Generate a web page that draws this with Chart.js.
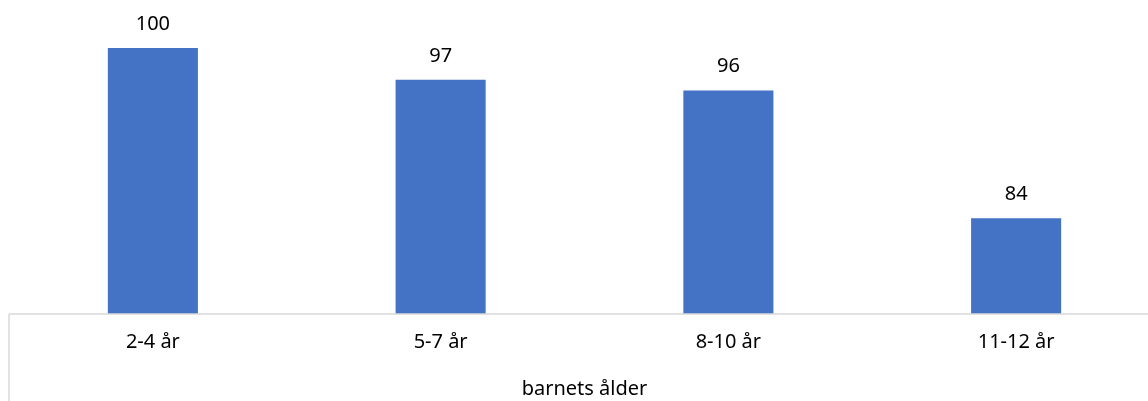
<!DOCTYPE html>
<html>
<head>
<meta charset="UTF-8">
<title>barnets ålder</title>
<script src="https://cdn.jsdelivr.net/npm/chart.js@4.4.1/dist/chart.umd.min.js"></script>
<style>
  body { margin: 0; overflow: hidden; background: #fff; }
  /* plot is a bit wider than the window, the right edge is cut like in the original */
  #container { width: 1160px; height: 401px; }
</style>
</head>
<body>
<div id="container">
  <canvas id="canvas"></canvas>
</div>
<script>
const categories = ['2-4 år', '5-7 år', '8-10 år', '11-12 år'];
const values = [100, 97, 96, 84];
const axisTitle = 'barnets ålder';

const fontFamily = "'Noto Sans', 'Open Sans', sans-serif";

// value labels over the bars + the left edge line of the category box
const barLabels = {
  id: 'barLabels',
  afterDatasetsDraw(chart) {
    const ctx = chart.ctx;
    const meta = chart.getDatasetMeta(0);
    ctx.save();
    ctx.font = '20px ' + fontFamily;
    ctx.fillStyle = '#000';
    ctx.textAlign = 'center';
    ctx.textBaseline = 'middle';
    meta.data.forEach(function(bar, i) {
      ctx.fillText(values[i], bar.x, bar.y - 24);
    });
    const area = chart.chartArea;
    ctx.strokeStyle = '#d9d9d9';
    ctx.lineWidth = 1.5;
    ctx.beginPath();
    ctx.moveTo(area.left, area.bottom);
    ctx.lineTo(area.left, chart.height);
    ctx.moveTo(area.left, area.bottom);
    ctx.lineTo(chart.width, area.bottom);
    ctx.stroke();
    ctx.restore();
  }
};

new Chart(document.getElementById('canvas'), {
  type: 'bar',
  data: {
    labels: categories,
    datasets: [{
      data: values,
      backgroundColor: '#4472c4',
      categoryPercentage: 1,
      barPercentage: 0.313
    }]
  },
  options: {
    responsive: true,
    maintainAspectRatio: false,
    animation: false,
    layout: { padding: { left: 9, right: 0, top: 0, bottom: 0 } },
    plugins: {
      legend: { display: false },
      tooltip: { enabled: false }
    },
    scales: {
      x: {
        grid: { display: false },
        border: { display: false },
        ticks: {
          color: '#000',
          padding: 8,
          font: { family: fontFamily, size: 20 }
        },
        title: {
          display: true,
          text: axisTitle,
          color: '#000',
          padding: { top: 14, bottom: 0 },
          font: { family: fontFamily, size: 20 }
        },
        afterFit(scale) { scale.height = 87; }
      },
      y: {
        display: false,
        min: 75,
        max: 104.5
      }
    }
  },
  plugins: [barLabels]
});
</script>
</body>
</html>
